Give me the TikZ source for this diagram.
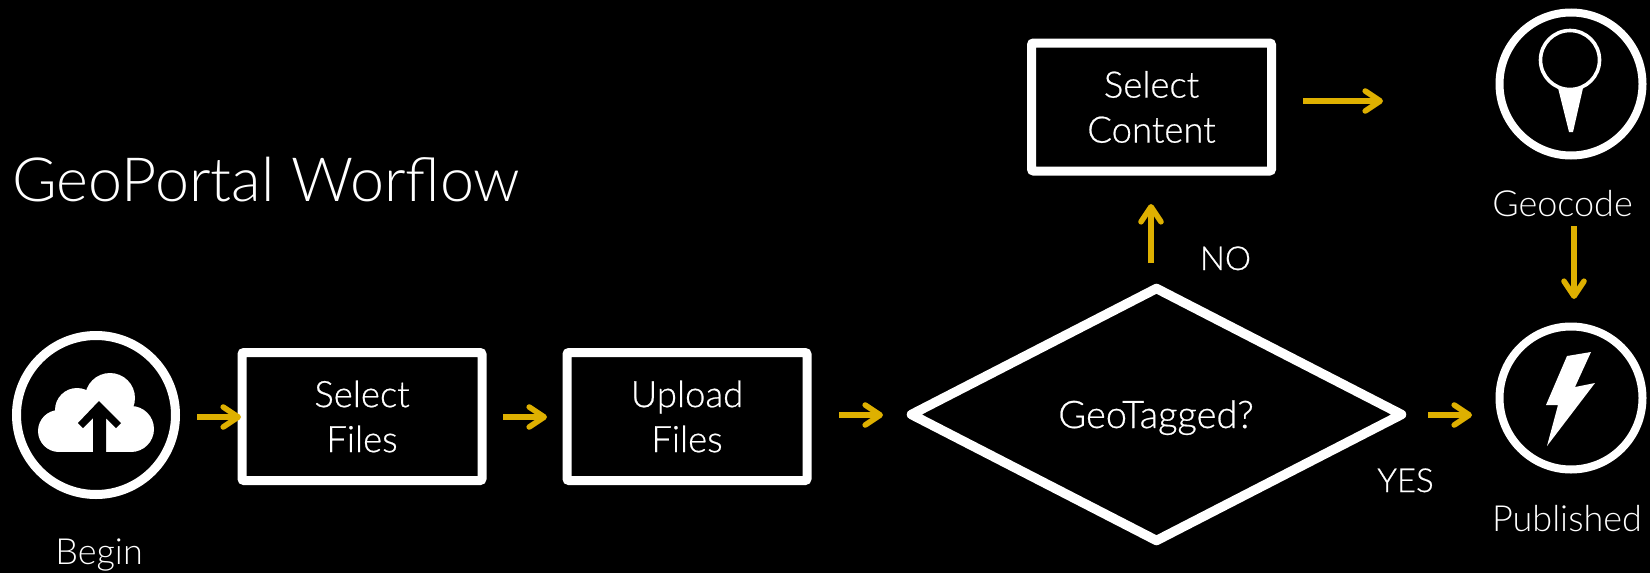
\documentclass[tikz,border=0pt]{standalone}
\usepackage{fontspec}
\setmainfont{Lato Light}
\newfontfamily\boxfont[FakeBold=0.6]{Lato Light}
\usetikzlibrary{arrows.meta,shapes.geometric}
\definecolor{gold}{HTML}{DEB000}
\tikzset{
  x=1pt,y=-1pt,
  every node/.style={text=white,inner sep=0pt,align=center},
  flowbox/.style={draw=white,line width=9pt,rounded corners=2pt,fill=black,minimum width=240pt,minimum height=128pt,font=\boxfont\fontsize{36.5}{45}\selectfont,execute at begin node=\rule{0pt}{31pt}},
  bigring/.style={draw=white,line width=9pt,circle,minimum size=159pt},
  ring/.style={draw=white,line width=8pt,circle,minimum size=143pt},
  lab/.style={anchor=base,font=\fontsize{36}{42}\selectfont},
  shortlab/.style={anchor=base,font=\boxfont\fontsize{33}{40}\selectfont},
  flowarrow/.style={draw=gold,line width=5.6pt,-{Straight Barb[length=15pt,width=20pt,line width=5.6pt,round]}},
}
\begin{document}
\begin{tikzpicture}
\path[use as bounding box,fill=black] (0,0) rectangle (1650,573);
\node[anchor=base west,font=\fontsize{61}{70}\selectfont] (title) at (12,201) {GeoPortal Worflow};
\node[bigring] (begin) at (96,415) {};
\node[ring] (geo) at (1571,84) {};
\node[ring] (pub) at (1571,398) {};
\node[flowbox] (sel) at (362,416.5) {Select\\Files};
\node[flowbox] (upl) at (687,416.5) {Upload\\Files};
\node[flowbox] (con) at (1151.5,107) {Select\\Content};
\node[draw=white,line width=9.5pt,fill=none,diamond,aspect=1.93,minimum width=494pt,minimum height=256pt,line join=round] (dec) at (1156.5,414.5) {};
\node[anchor=base,font=\boxfont\fontsize{38}{40}\selectfont] (dectext) at (1156,428) {GeoTagged?};
\node[lab] (lbegin) at (99,564) {Begin};
\node[lab] (lgeo) at (1562.5,216) {Geocode};
\node[lab] (lpub) at (1567,531) {Published};
\node[shortlab] (lno) at (1225.5,270) {NO};
\node[shortlab] (lyes) at (1405.5,492) {YES};
\coordinate (a1s) at (197,417); \coordinate (a1e) at (241,417);
\coordinate (a2s) at (503,417); \coordinate (a2e) at (547,417);
\coordinate (a3s) at (839,415); \coordinate (a3e) at (883,415);
\coordinate (a4s) at (1428,415); \coordinate (a4e) at (1472,415);
\coordinate (a5s) at (1151,263); \coordinate (a5e) at (1151,204);
\coordinate (a6s) at (1303,101); \coordinate (a6e) at (1383,101);
\coordinate (a7s) at (1574,226); \coordinate (a7e) at (1574,299);
\draw[flowarrow] (a1s) -- (a1e);
\draw[flowarrow] (a2s) -- (a2e);
\draw[flowarrow] (a3s) -- (a3e);
\draw[flowarrow] (a4s) -- (a4e);
\draw[flowarrow] (a5s) -- (a5e);
\draw[flowarrow] (a6s) -- (a6e);
\draw[flowarrow] (a7s) -- (a7e);
% cloud icon
\fill[white] (59,431) circle (21) (77,410) circle (22) (110,398) circle (25) (131,429) circle (23);
\fill[white] (59,415) rectangle (131,452);
\fill[black] (99,401) -- (121,423) -- (116,428) -- (106,418) -- (106,452) -- (93,452) -- (93,418) -- (83,428) -- (78,423) -- cycle;
% pin icon
\draw[white,line width=3.6pt] (1570,60) circle (29.5);
\fill[white] (1558,88) -- (1583,88) -- (1573,132) -- (1569,132) -- cycle;
% bolt icon
\fill[white] (1567,356) -- (1591,352) -- (1575,387) -- (1595,383) -- (1547,446) -- (1558,405) -- (1546,405) -- cycle;
\end{tikzpicture}
\end{document}
